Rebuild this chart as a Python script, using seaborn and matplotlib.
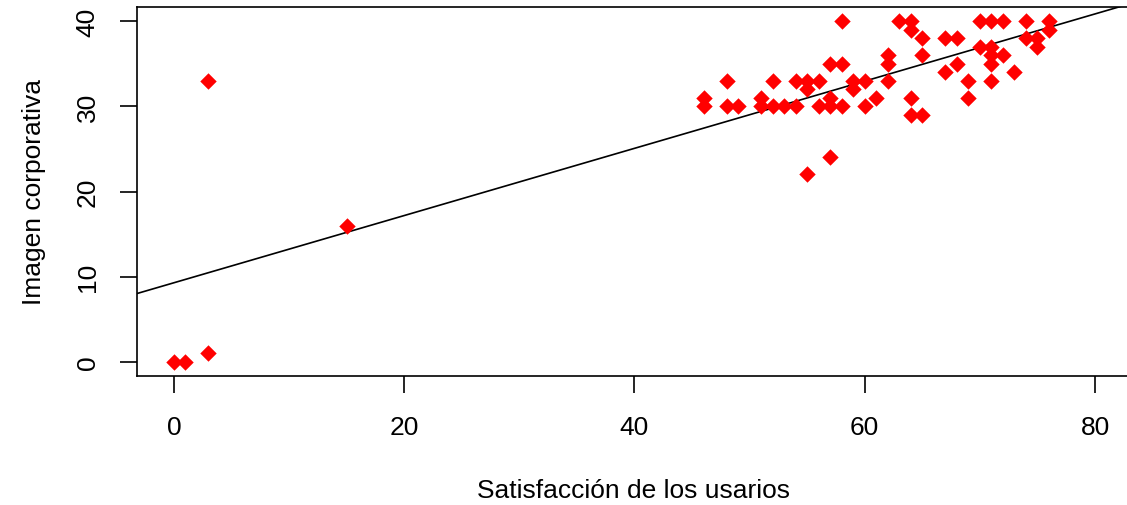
import matplotlib
matplotlib.use("Agg")
import matplotlib.pyplot as plt
import seaborn as sns
import numpy as np
import pandas as pd

# satisfaccion (x) e imagen corporativa (y)
satisfaccion = [0, 1, 3, 3, 15,
                46, 46, 48, 48, 49, 51, 51, 52, 52, 53, 54, 54, 55, 55, 55,
                56, 56, 57, 57, 57, 57, 58, 58, 58, 59, 59, 60, 60, 61, 62, 62, 62,
                63, 64, 64, 64, 64, 65, 65, 65, 67, 67, 68, 68, 69, 69, 70, 70,
                71, 71, 71, 71, 71, 72, 72, 73, 74, 74, 75, 75, 76, 76]
imagen = [0, 0, 1, 33, 16,
          31, 30, 33, 30, 30, 31, 30, 33, 30, 30, 33, 30, 33, 32, 22,
          33, 30, 35, 31, 30, 24, 40, 35, 30, 33, 32, 33, 30, 31, 36, 35, 33,
          40, 40, 39, 31, 29, 38, 36, 29, 38, 34, 38, 35, 33, 31, 40, 37,
          40, 37, 36, 35, 33, 40, 36, 34, 40, 38, 38, 37, 40, 39]

df = pd.DataFrame({"x": satisfaccion, "y": imagen})

sns.set_style("white")
plt.rcParams['font.family'] = ['Liberation Sans', 'DejaVu Sans']
plt.rcParams['text.color'] = 'black'
plt.rcParams['xtick.color'] = 'black'
plt.rcParams['ytick.color'] = 'black'

fig = plt.figure(figsize=(11.27, 5.06), dpi=100)
ax = fig.add_axes([0.1216, 0.2557, 0.8827, 0.7277])

sns.scatterplot(data=df, x="x", y="y", marker="D", s=70, color="red",
                edgecolor="red", linewidth=0, ax=ax, zorder=3)

# recta de regresion
slope, intercept = np.polyfit(df["x"], df["y"], 1)
xs = np.array([-3.2, 83.2])
ax.plot(xs, intercept + slope * xs, color="black", lw=1.2, zorder=2)

ax.set_xlim(-3.2, 83.2)
ax.set_ylim(-1.6, 41.6)
ax.set_xticks([0, 20, 40, 60, 80])
ax.set_yticks([0, 10, 20, 30, 40])
ax.tick_params(axis="both", direction="out", length=12, width=1.2,
               labelsize=19, colors="black", left=True, bottom=True)
ax.tick_params(axis="x", pad=16)
ax.tick_params(axis="y", pad=15)
for lab in ax.get_yticklabels():
    lab.set_rotation(90)
    lab.set_va("center")
for sp in ax.spines.values():
    sp.set_color("black")
    sp.set_linewidth(1.2)

ax.set_xlabel("")
ax.set_ylabel("")
fig.text(0.562, 0.016, "Satisfacción de los usarios", ha="center", va="baseline",
         fontsize=19, color="black")
fig.text(0.03, 0.6196, "Imagen corporativa", ha="center", va="center",
         rotation=90, fontsize=19, color="black")

fig.savefig("out.png", dpi=100)
